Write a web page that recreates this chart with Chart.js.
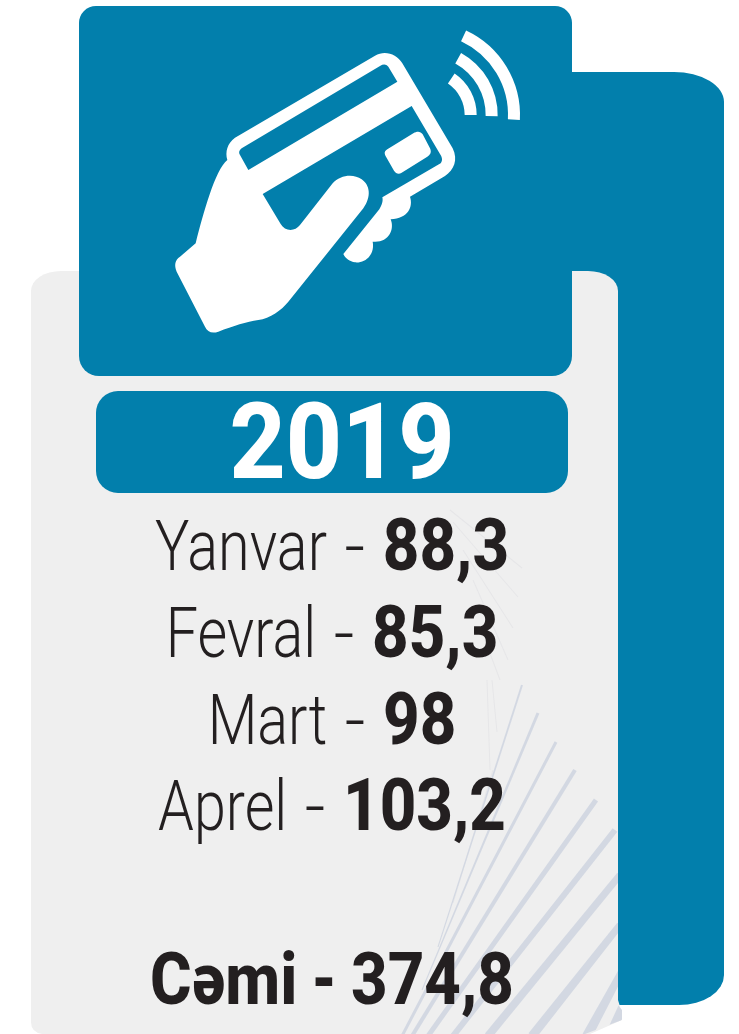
<!DOCTYPE html>
<html><head><meta charset="utf-8">
<style>html,body{margin:0;padding:0;background:#fff}canvas{display:block}</style>
<script src="https://cdn.jsdelivr.net/npm/chart.js@4"></script></head>
<body><canvas id="c" width="739" height="1034"></canvas>
<script>
const year = "2019";
const months = ["Yanvar","Fevral","Mart","Aprel"];
const monthValues = [88.3,85.3,98,103.2];
const totalLabel = "Cəmi";
const totalValue = 374.8;
const rowLabels = [...months,"",totalLabel];
const rowValues = [...monthValues,null,totalValue];

const BLUE="#027fac", GREY="#efefef", INK="#231f20", RAY="#d3d8e2", FAINT="#e6e6e8";
const fmt=v=>String(v).replace(".",",");

function rr(ctx,x0,y0,x1,y1,tl,tr,br,bl){ // corners [rx,ry]
  ctx.beginPath();
  ctx.moveTo(x0+tl[0],y0);
  ctx.lineTo(x1-tr[0],y0); ctx.ellipse(x1-tr[0],y0+tr[1],tr[0],tr[1],0,-Math.PI/2,0);
  ctx.lineTo(x1,y1-br[1]); ctx.ellipse(x1-br[0],y1-br[1],br[0],br[1],0,0,Math.PI/2);
  ctx.lineTo(x0+bl[0],y1); ctx.ellipse(x0+bl[0],y1-bl[1],bl[0],bl[1],0,Math.PI/2,Math.PI);
  ctx.lineTo(x0,y0+tl[1]); ctx.ellipse(x0+tl[0],y0+tl[1],tl[0],tl[1],0,Math.PI,Math.PI*1.5);
  ctx.closePath();
}
function ray(ctx,x0,y0,x1,y1,w0,w1,col){
  const dx=x1-x0,dy=y1-y0,l=Math.hypot(dx,dy),nx=-dy/l,ny=dx/l;
  ctx.fillStyle=col;ctx.beginPath();
  ctx.moveTo(x0+nx*w0/2,y0+ny*w0/2);ctx.lineTo(x1+nx*w1/2,y1+ny*w1/2);
  ctx.lineTo(x1-nx*w1/2,y1-ny*w1/2);ctx.lineTo(x0-nx*w0/2,y0-ny*w0/2);ctx.closePath();ctx.fill();
}
const handPath=new Path2D("M232,480 C225,455 232,430 255,413 L675,167 C705,150 740,162 757,190 L908,445 C925,480 912,510 885,528 L780,590 C790,620 775,655 722,658 C735,690 715,730 668,725 C675,760 650,790 615,787 C600,785 585,775 580,762 L688,628 C695,615 700,605 697,592 L872,490 C880,480 875,470 870,462 L785,318 L338,582 L392,672 C405,695 435,695 450,675 L548,550 C570,525 610,520 635,538 C660,555 665,590 640,625 L415,905 C395,930 360,955 325,960 C290,965 250,978 205,995 C185,1002 172,995 165,980 L80,815 C72,795 75,780 90,770 L137,730 C160,640 195,510 232,480 Z");
const stripePath=new Path2D("M295,510 L742,245 L715,200 C708,192 700,192 690,198 L275,445 C268,450 265,458 270,465 Z");
const chipPath=new Path2D("M712,448 L790,400 C803,392 812,395 818,403 L840,445 C846,458 840,465 832,470 L755,518 C745,524 738,520 732,512 L708,470 C702,460 703,453 712,448 Z");

const backdrop={id:"backdrop",beforeDraw(chart){
  const ctx=chart.ctx;ctx.save();
  ctx.fillStyle=BLUE;rr(ctx,500,72,724,1005,[1,1],[50,30],[45,30],[1,1]);ctx.fill();
  ctx.fillStyle=GREY;rr(ctx,31,271,618,1005,[30,20],[30,20],[1,1],[1,1]);ctx.fill();
  ctx.beginPath();ctx.moveTo(31,1000);ctx.lineTo(618,1000);ctx.lineTo(622,1013);ctx.lineTo(622,1020);ctx.lineTo(590,1034);ctx.lineTo(42,1034);ctx.quadraticCurveTo(31,1032,31,1022);ctx.closePath();ctx.fill();
  // fan of rays
  ctx.save();
  ctx.beginPath();ctx.moveTo(31,271);ctx.lineTo(618,271);ctx.lineTo(618,1005);ctx.lineTo(622,1010);ctx.lineTo(622,1020);ctx.lineTo(585,1034);ctx.lineTo(31,1034);ctx.closePath();ctx.clip();
  [[450,510,522,568],[453,522,518,597],[463,550,513,628],[473,580,508,660],[485,640,500,680],[487,680,490,770],[492,680,497,732],[493,770,453,903]].forEach(r=>ray(ctx,r[0],r[1],r[2],r[3],1,1,FAINT));
  [[438,947,522,685,1,2],[422,990,538,713,1,3],[402,1036,556,742,3,3],[412,1036,575,770,4,4],[428,1036,596,800,5,5],[453,1036,615,830,6,6],[488,1036,620,875,8,7],[532,1036,620,925,9,7],[587,1036,622,971,10,7],[610,1036,624,1003,10,8]]
    .forEach(r=>ray(ctx,r[0],r[1],r[2],r[3],r[4],r[5],RAY));
  ctx.restore();
  // panels
  ctx.fillStyle=BLUE;
  rr(ctx,79,6,572,376,[17,17],[17,17],[20,20],[20,20]);ctx.fill();
  rr(ctx,96,391,568,493,[22,22],[22,22],[22,22],[22,22]);ctx.fill();
  // icon
  ctx.save();ctx.translate(150,0);ctx.scale(1/3,1/3);
  ctx.fillStyle="#fff";ctx.fill(handPath);
  ctx.fillStyle=BLUE;ctx.fill(stripePath);
  ctx.fillStyle="#fff";ctx.fill(chipPath);
  ctx.strokeStyle="#fff";ctx.lineWidth=36;ctx.lineCap="butt";
  [[262,-65,3],[195,-61,1],[132,-56,0]].forEach(a=>{ctx.beginPath();ctx.arc(830,345,a[0],a[1]*Math.PI/180,a[2]*Math.PI/180);ctx.stroke();});
  ctx.restore();
  ctx.restore();
}};

const REG="300 70px Roboto", BOLD="800 73px Roboto";
const REGX=.82, BOLDX=.87, SEPX=1.03, SEPBOLDX=.80;
function wide(ctx,font,sx,t){ctx.font=font;return ctx.measureText(t).width*sx;}
function put(ctx,font,sx,t,x,y){ctx.save();ctx.font=font;ctx.translate(x,y);ctx.scale(sx,1);ctx.textAlign="left";ctx.textBaseline="alphabetic";ctx.fillText(t,0,0);ctx.restore();}
const labels={id:"labels",afterDraw(chart){
  const ctx=chart.ctx,ys=chart.scales.y;ctx.save();
  ctx.fillStyle="#fff";
  const yf="800 105px Roboto",ysx=.93;
  put(ctx,yf,ysx,year,342-wide(ctx,yf,ysx,year)/2,478);
  ctx.fillStyle=INK;
  rowLabels.forEach((lab,i)=>{
    if(rowValues[i]==null)return;
    const isTotal=lab===totalLabel;
    const y=ys.getPixelForValue(i)+23;
    const f1=isTotal?BOLD:REG,s1=isTotal?BOLDX:REGX;
    const val=fmt(rowValues[i]);
    const parts=[[f1,s1,lab],[f1,isTotal?SEPBOLDX:SEPX," - "],[BOLD,BOLDX,val]];
    const tot=parts.reduce((a,p)=>a+wide(ctx,p[0],p[1],p[2]),0);
    let x=332-tot/2;
    parts.forEach(p=>{put(ctx,p[0],p[1],p[2],x,y);x+=wide(ctx,p[0],p[1],p[2]);});
  });
  ctx.restore();
}};

new Chart(document.getElementById("c"),{
  type:"bar",
  data:{labels:rowLabels,datasets:[{data:rowValues,backgroundColor:"rgba(0,0,0,0)",borderWidth:0}]},
  options:{indexAxis:"y",responsive:false,animation:false,
    layout:{padding:{top:504,bottom:10,left:0,right:0}},
    plugins:{legend:{display:false},tooltip:{enabled:false},title:{display:false}},
    scales:{x:{display:false,min:0},y:{display:false}}},
  plugins:[backdrop,labels]
});
</script></body></html>
